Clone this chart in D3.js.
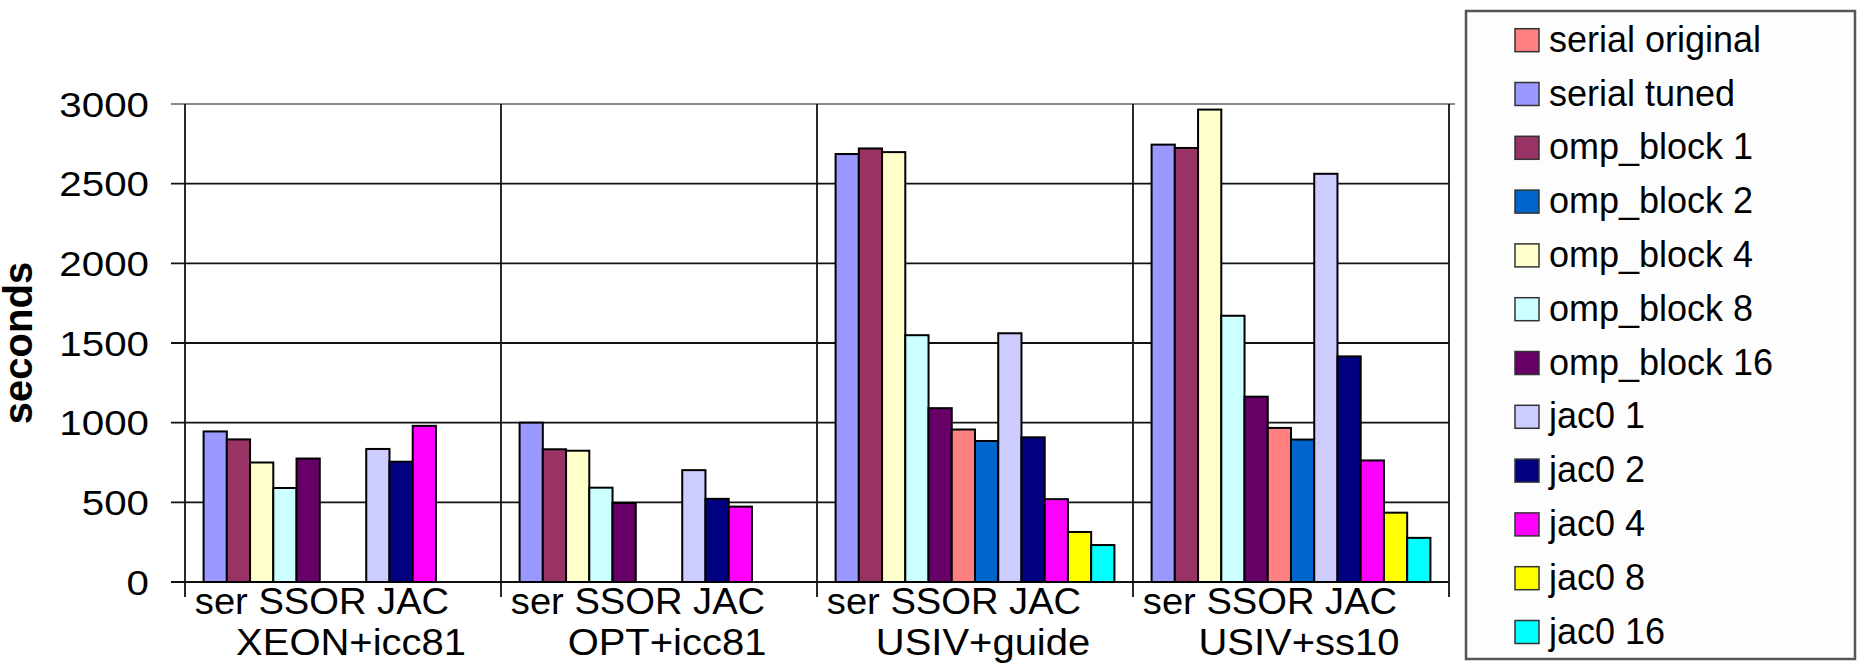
<!DOCTYPE html>
<html>
<head>
<meta charset="utf-8">
<script src="https://cdn.jsdelivr.net/npm/d3@7"></script>
<style>
  body { margin: 0; background: #fff; }
  text { font-family: "Liberation Sans", Arial, sans-serif; fill: #000; }
</style>
</head>
<body>
<svg id="chart" width="1858" height="664"></svg>
<script>
// Platforms (x categories) and the caption line printed above each platform name
const platforms = ["XEON+icc81", "OPT+icc81", "USIV+guide", "USIV+ss10"];
const methodCaption = "ser SSOR JAC";

// Bar order inside each cluster
const series = ["serial tuned", "omp_block 1", "omp_block 4", "omp_block 8", "omp_block 16",
                "serial original", "omp_block 2", "jac0 1", "jac0 2", "jac0 4", "jac0 8", "jac0 16"];

// Order of entries in the legend
const legendOrder = ["serial original", "serial tuned", "omp_block 1", "omp_block 2", "omp_block 4",
                     "omp_block 8", "omp_block 16", "jac0 1", "jac0 2", "jac0 4", "jac0 8", "jac0 16"];

const seriesColors = ["#9999FF", "#993366", "#FFFFCC", "#CCFFFF", "#660066",
                      "#FF8080", "#0066CC", "#CCCCFF", "#000080", "#FF00FF", "#FFFF00", "#00FFFF"];

// Run times in seconds, one value per series (null = not measured)
const xeonIcc81 = [945, 895, 750, 590, 775, null, null, 835, 755, 980, null, null];
const optIcc81  = [1000, 833, 824, 592, 496, null, null, 702, 522, 473, null, null];
const usivGuide = [2686, 2721, 2698, 1549, 1091, 957, 885, 1561, 908, 520, 314, 232];
const usivSs10  = [2745, 2724, 2965, 1671, 1163, 967, 894, 2562, 1416, 763, 435, 277];

const yTicks = [0, 500, 1000, 1500, 2000, 2500, 3000];
const yTitle = "seconds";

const table = [xeonIcc81, optIcc81, usivGuide, usivSs10];
const color = d3.scaleOrdinal(series, seriesColors);

const svg = d3.select("#chart");
const plot = { left: 185, right: 1449, top: 104, bottom: 582 };

const x0 = d3.scaleBand(platforms, [plot.left, plot.right]).padding(0);
const x1 = d3.scaleBand(series, [0, x0.bandwidth()]).paddingInner(0).paddingOuter(0.8);
const y = d3.scaleLinear([0, 3000], [plot.bottom, plot.top]);

// horizontal gridlines with outside tick marks
svg.append("g").selectAll("line")
  .data(yTicks)
  .join("line")
  .attr("x1", plot.left - 14)
  .attr("x2", d => d === 3000 ? plot.right + 6 : plot.right)
  .attr("y1", d => y(d)).attr("y2", d => y(d))
  .attr("stroke", d => d === 3000 ? "#8a8a8a" : "#111")
  .attr("stroke-width", 1.8);

// category separators (run from the top of the plot through the axis)
const edges = platforms.map(p => x0(p)).concat([plot.right]);
svg.append("g").selectAll("line")
  .data(edges)
  .join("line")
  .attr("x1", d => d).attr("x2", d => d)
  .attr("y1", plot.top).attr("y2", plot.bottom + 15)
  .attr("stroke", "#111")
  .attr("stroke-width", 1.8);

// y tick labels
svg.append("g").selectAll("text")
  .data(yTicks)
  .join("text")
  .attr("transform", d => `translate(149,${y(d)}) scale(1.12,1)`)
  .attr("text-anchor", "end")
  .attr("dominant-baseline", "central")
  .attr("font-size", 36)
  .text(d => d);

// y axis title
svg.append("text")
  .attr("transform", `translate(32,${(plot.top + plot.bottom) / 2}) rotate(-90)`)
  .attr("text-anchor", "middle")
  .attr("font-size", 40)
  .attr("font-weight", "bold")
  .text(yTitle);

// bars
const clusters = svg.append("g").selectAll("g")
  .data(platforms.map((p, i) => ({ platform: p, values: table[i] })))
  .join("g")
  .attr("transform", d => `translate(${x0(d.platform)},0)`);

clusters.selectAll("rect")
  .data(d => series.map((s, j) => ({ s, v: d.values[j] })).filter(e => e.v != null))
  .join("rect")
  .attr("x", d => x1(d.s))
  .attr("width", x1.bandwidth())
  .attr("y", d => y(d.v))
  .attr("height", d => y(0) - y(d.v))
  .attr("fill", d => color(d.s))
  .attr("stroke", "#000")
  .attr("stroke-width", 2);

// category labels: caption line and platform name
const catLabels = svg.append("g").selectAll("g")
  .data(platforms)
  .join("g")
  .attr("transform", d => `translate(${x0(d) + x0.bandwidth() / 2},0)`);

catLabels.append("text")
  .attr("transform", "translate(-21,614) scale(1.06,1)")
  .attr("text-anchor", "middle")
  .attr("font-size", 36)
  .text(methodCaption);

catLabels.append("text")
  .attr("transform", "translate(8,655) scale(1.08,1)")
  .attr("text-anchor", "middle")
  .attr("font-size", 37)
  .text(d => d);

// legend
const legend = svg.append("g");
legend.append("rect")
  .attr("x", 1466).attr("y", 11)
  .attr("width", 389).attr("height", 648)
  .attr("fill", "#fdfdfd")
  .attr("stroke", "#555")
  .attr("stroke-width", 2.5);

const rowY = d3.scalePoint(legendOrder, [51.7, 643.5]);
const rows = legend.selectAll("g.row")
  .data(legendOrder)
  .join("g")
  .attr("class", "row")
  .attr("transform", d => `translate(0,${rowY(d)})`);

rows.append("rect")
  .attr("x", 1515).attr("y", -23)
  .attr("width", 24).attr("height", 23)
  .attr("fill", d => color(d))
  .attr("stroke", "#333")
  .attr("stroke-width", 1.5);

rows.append("text")
  .attr("x", 1549)
  .attr("y", 0)
  .attr("font-size", 36)
  .text(d => d);
</script>
</body>
</html>
